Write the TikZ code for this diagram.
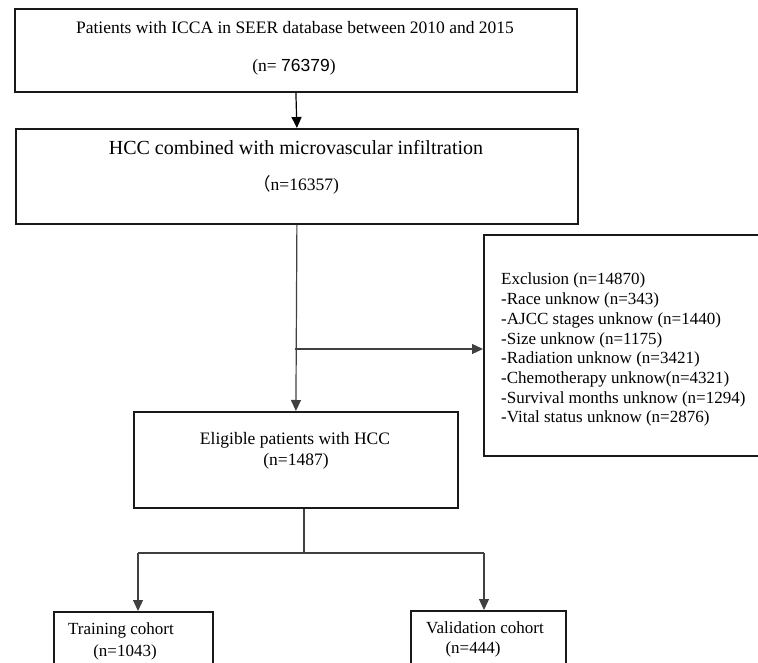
\documentclass[tikz,border=0pt]{standalone}
\usepackage{fontspec}
\setmainfont{Liberation Serif}
\newfontfamily\sansdig{Liberation Sans}
\newfontfamily\cjk{Noto Sans CJK SC}
\usetikzlibrary{arrows.meta}
\begin{document}
\begin{tikzpicture}[x=1pt,y=-1pt,
  boxnode/.style={draw=black!90, line width=1.8pt, rectangle, inner sep=0pt, anchor=north west},
  txt/.style={inner sep=0pt, text=black},
  conn/.style={draw=black!75, line width=1.2pt},
  arrowconn/.style={conn, -{Triangle[length=11pt,width=10pt]}}]
\useasboundingbox (0,0) rectangle (758,663);
% boxes
\node[boxnode, minimum width=562pt, minimum height=83pt] (b1) at (14,8) {};
\node[boxnode, minimum width=562pt, minimum height=95pt] (b2) at (15,128) {};
\node[boxnode, minimum width=320pt, minimum height=221pt] (excl) at (483,234) {};
\node[boxnode, minimum width=324pt, minimum height=96pt] (elig) at (133,411) {};
\node[boxnode, minimum width=159pt, minimum height=90pt] (train) at (53,611) {};
\node[boxnode, minimum width=155pt, minimum height=90pt] (val) at (410,610) {};
% texts
\node[txt, font=\fontsize{17.5}{21}\selectfont] (t1a) at (295,28) {Patients with ICCA in SEER database between 2010 and 2015};
\node[txt, font=\fontsize{17.5}{21}\selectfont] (t1b) at (294,67) {(n= {\sansdig 76379})};
\node[txt, font=\fontsize{20}{24}\selectfont] (t2a) at (296,148) {HCC combined with microvascular infiltration};
\node[txt, font=\fontsize{17.5}{21}\selectfont] (t2b) at (296,185) {{\cjk （}n=16357)};
\node[txt, font=\fontsize{17}{19.7}\selectfont, align=left, anchor=north west] (tex) at (501,273) {Exclusion (n=14870)\\-Race unknow (n=343)\\-AJCC stages unknow (n=1440)\\-Size unknow (n=1175)\\-Radiation unknow (n=3421)\\-Chemotherapy unknow(n=4321)\\-Survival months unknow (n=1294)\\-Vital status unknow (n=2876)};
\node[txt, font=\fontsize{17.5}{21}\selectfont] (t3a) at (295,440) {Eligible patients with HCC};
\node[txt, font=\fontsize{17.5}{21}\selectfont] (t3b) at (296,461) {(n=1487)};
\node[txt, font=\fontsize{17}{21}\selectfont] (t4a) at (121,630) {Training cohort};
\node[txt, font=\fontsize{17}{21}\selectfont] (t4b) at (125,652) {(n=1043)};
\node[txt, font=\fontsize{17}{21}\selectfont] (t5a) at (485,628) {Validation cohort};
\node[txt, font=\fontsize{17}{21}\selectfont] (t5b) at (473,649) {(n=444)};
% connectors
\draw[arrowconn, draw=black] (b1.south) -- (b2.north);
\draw[arrowconn] (b2.south) -- (elig.north);
\coordinate (br) at (295,349);
\draw[arrowconn] (br) -- (br -| excl.west);
\coordinate (sp) at (304,553);
\coordinate (tl) at (138,553);
\coordinate (tr) at (484,553);
\draw[conn] (sp |- elig.south) -- (sp);
\draw[conn] (tl) -- (tr);
\draw[arrowconn] (tl) -- (tl |- train.north);
\draw[arrowconn] (tr) -- (tr |- val.north);
\end{tikzpicture}
\end{document}
